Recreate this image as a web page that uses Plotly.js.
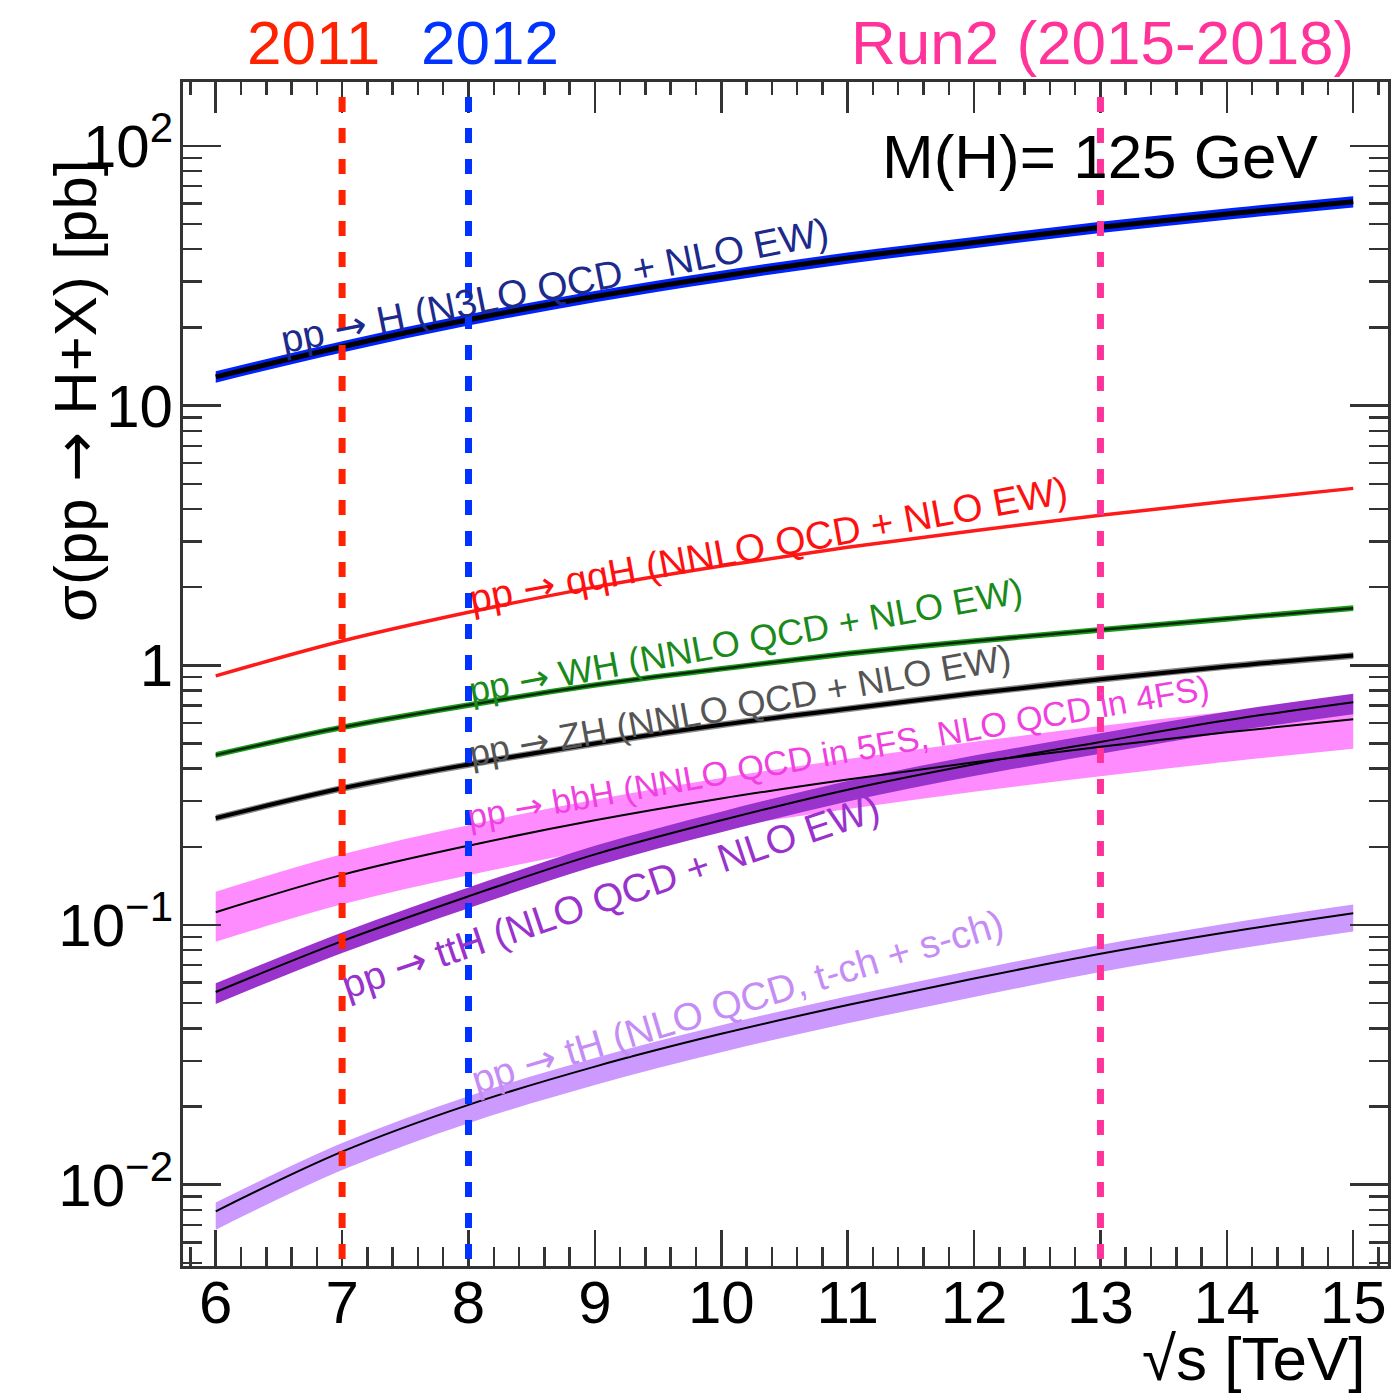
<!DOCTYPE html>
<html><head><meta charset="utf-8">
<script src="https://cdn.plot.ly/plotly-3.0.1.min.js"></script>
<style>html,body{margin:0;padding:0;background:#fff}</style>
</head><body><div id="chart" style="width:1394px;height:1395px"></div>
<script>
// ---- data (cross sections in pb) ----
const energies = [6, 7, 8, 9, 10, 11, 12, 13, 14, 15];
const xsGGF = [12.9, 16.85, 21.4, 26.3, 31.5, 37.0, 42.5, 48.6, 54.7, 61.0];
const xsVBF = [0.91, 1.24, 1.60, 2.00, 2.41, 2.85, 3.30, 3.78, 4.28, 4.80];
const xsWH  = [0.452, 0.577, 0.703, 0.84, 0.97, 1.11, 1.24, 1.37, 1.51, 1.66];
const xsZH  = [0.258, 0.336, 0.415, 0.50, 0.59, 0.68, 0.78, 0.884, 0.99, 1.09];
const xsBBH = [0.112, 0.156, 0.202, 0.253, 0.307, 0.363, 0.423, 0.486, 0.552, 0.62];
const xsTTH = [0.0552, 0.0867, 0.129, 0.187, 0.253, 0.332, 0.416, 0.507, 0.614, 0.72];
const xsTH  = [0.0079, 0.0134, 0.0203, 0.0285, 0.0381, 0.0492, 0.0622, 0.0775, 0.0938, 0.111];

// relative uncertainty band (percent): ggF, VBF, WH, ZH, bbH, ttH, tH
const bandUpPct   = [5, 0, 2.5, 3, 20, 8, 8];
const bandDownPct = [5, 0, 2.5, 3, 23, 10, 15];

const ARROW = '<span style="font-family:DejaVu Sans">→</span>';
const processLabels = [
  'pp ' + ARROW + ' H (N3LO QCD + NLO EW)',
  'pp ' + ARROW + ' qqH (NNLO QCD + NLO EW)',
  'pp ' + ARROW + ' WH (NNLO QCD + NLO EW)',
  'pp ' + ARROW + ' ZH (NNLO QCD + NLO EW)',
  'pp ' + ARROW + ' bbH (NNLO QCD in 5FS, NLO QCD in 4FS)',
  'pp ' + ARROW + ' ttH (NLO QCD + NLO EW)',
  'pp ' + ARROW + ' tH (NLO QCD, t-ch + s-ch)'
];

const runEnergies = [7, 8, 13];
const runLabels = ['2011', '2012', 'Run2 (2015-2018)'];

const xTickVals = [6, 7, 8, 9, 10, 11, 12, 13, 14, 15];
const yTickVals = [0.01, 0.1, 1, 10, 100];
const yTickText = ['10<sup>−2</sup>', '10<sup>−1</sup>', '1', '10', '10<sup>2</sup>'];
const yMinorVals = [0.005, 0.006, 0.007, 0.008, 0.009,
  0.02, 0.03, 0.04, 0.05, 0.06, 0.07, 0.08, 0.09,
  0.2, 0.3, 0.4, 0.5, 0.6, 0.7, 0.8, 0.9,
  2, 3, 4, 5, 6, 7, 8, 9,
  20, 30, 40, 50, 60, 70, 80, 90];

// ---- styles ----
const FONT = 'Liberation Sans, Arial, Helvetica, sans-serif';
const bandColors = ['#0022ff', null, '#1a9a1a', '#888888', '#ff8cff', '#9933cc', '#cc99ff'];
const labelColors = ['#1c2a8c', '#ff1010', '#1a8a1a', '#555555', '#f040e0', '#9933cc', '#c58cf5'];
const lineColors = ['#000000', '#ff1a1a', '#0a2a0a', '#000000', '#000000', '#000000', '#000000'];
const lineWidths = [5, 3.5, 2.5, 4, 2, 2, 2];
const labelSizes = [38.8, 38.8, 36.3, 36.3, 34.2, 39.3, 38.8];
const runColors = ['#ff2200', '#0033ff', '#ff3399'];

const series = [xsGGF, xsVBF, xsWH, xsZH, xsBBH, xsTTH, xsTH];
const traces = [];
function addBand(i) {
  const c = series[i];
  const up = c.map(v => v * (1 + bandUpPct[i] / 100));
  const dn = c.map(v => v * (1 - bandDownPct[i] / 100));
  traces.push({x: energies, y: dn, mode: 'lines', line: {width: 0, shape: 'spline'},
    hoverinfo: 'skip', showlegend: false});
  traces.push({x: energies, y: up, mode: 'lines', line: {width: 0, shape: 'spline'},
    fill: 'tonexty', fillcolor: bandColors[i], hoverinfo: 'skip', showlegend: false});
}
function addLine(i) {
  traces.push({x: energies, y: series[i], mode: 'lines',
    line: {color: lineColors[i], width: lineWidths[i], shape: 'spline'},
    hoverinfo: 'skip', showlegend: false});
}
// draw order
[6, 4, 5, 3, 2, 0].forEach(addBand);
[6, 4, 5, 3, 2, 1, 0].forEach(addLine);
// invisible trace to hold the mirrored axes
traces.push({x: [10], y: [1], xaxis: 'x2', yaxis: 'y2', mode: 'markers',
  marker: {opacity: 0}, hoverinfo: 'skip', showlegend: false});

const xRange = [5.741, 15.275];
const yRange = [-2.313, 2.246];

const shapes = runEnergies.map((e, i) => ({
  type: 'line', xref: 'x', yref: 'paper', x0: e, x1: e, y0: 0.006, y1: 0.995,
  line: {color: runColors[i], width: 7, dash: '15px,16px'}
}));

// label placements (paper coordinates) and angles
const labelPos = [[0.308, 0.8285, -11.3], [0.4855, 0.609, -10.4], [0.467, 0.528, -10.3],
  [0.462, 0.4738, -10.2], [0.5436, 0.4341, -10.0], [0.3544, 0.3125, -18.6], [0.4598, 0.223, -16.7]];
const annotations = processLabels.map((t, i) => ({
  xref: 'paper', yref: 'paper', x: labelPos[i][0], y: labelPos[i][1], textangle: labelPos[i][2],
  text: t, showarrow: false, xanchor: 'center', yanchor: 'middle',
  font: {family: FONT, size: labelSizes[i], color: labelColors[i]}
}));
const runLabelX = [0.1087, 0.2548, 0.7627];
runLabels.forEach((t, i) => annotations.push({
  xref: 'paper', yref: 'paper', x: runLabelX[i], y: 1.033, text: t, showarrow: false,
  xanchor: 'center', yanchor: 'middle', font: {family: FONT, size: 62, color: runColors[i]}
}));
annotations.push({xref: 'paper', yref: 'paper', x: 0.761, y: 0.9367, text: 'M(H)= 125 GeV',
  showarrow: false, xanchor: 'center', yanchor: 'middle', font: {family: FONT, size: 62, color: '#000'}});
annotations.push({xref: 'paper', yref: 'paper', x: -0.0896, y: 0.739, text: 'σ(pp ' + ARROW + ' H+X) [pb]',
  textangle: -90, showarrow: false, xanchor: 'center', yanchor: 'middle',
  font: {family: FONT, size: 60, color: '#000'}});
annotations.push({xref: 'paper', yref: 'paper', x: 0.9834, y: -0.0785, text: '√s [TeV]',
  showarrow: false, xanchor: 'right', yanchor: 'middle', font: {family: FONT, size: 62, color: '#000'}});

const axCol = '#333333';
const layout = {
  width: 1394, height: 1395,
  margin: {l: 183, r: 6, t: 82, b: 129},
  paper_bgcolor: '#ffffff', plot_bgcolor: '#ffffff',
  showlegend: false,
  xaxis: {range: xRange, tickmode: 'array', tickvals: xTickVals, ticks: 'inside', ticklen: 36,
    tickwidth: 2.5, tickcolor: axCol, showline: true, mirror: true, linewidth: 3, linecolor: axCol,
    minor: {dtick: 0.2, ticks: 'inside', ticklen: 19, tickwidth: 2.5, tickcolor: axCol, showgrid: false},
    showgrid: false, zeroline: false, automargin: false, ticklabelstandoff: -18,
    tickfont: {family: FONT, size: 60, color: '#000'}},
  xaxis2: {range: xRange, overlaying: 'x', side: 'top', anchor: 'y', tickmode: 'array', tickvals: xTickVals,
    ticks: 'inside', ticklen: 31, tickwidth: 2.5, tickcolor: axCol, showticklabels: false,
    minor: {dtick: 0.2, ticks: 'inside', ticklen: 13, tickwidth: 2.5, tickcolor: axCol, showgrid: false},
    showline: false, showgrid: false, zeroline: false, automargin: false},
  yaxis: {type: 'log', range: yRange, tickmode: 'array', tickvals: yTickVals, ticktext: yTickText,
    ticks: 'inside', ticklen: 38, tickwidth: 2.5, tickcolor: axCol, showline: true, mirror: true,
    linewidth: 3, linecolor: axCol, ticklabelstandoff: -5,
    minor: {tickmode: 'array', tickvals: yMinorVals, ticks: 'inside', ticklen: 19, tickwidth: 2.5,
      tickcolor: axCol, showgrid: false},
    showgrid: false, zeroline: false, automargin: false,
    tickfont: {family: FONT, size: 60, color: '#000'}},
  yaxis2: {type: 'log', range: yRange, overlaying: 'y', side: 'right', anchor: 'x', tickmode: 'array',
    tickvals: yTickVals, ticks: 'inside', ticklen: 38, tickwidth: 2.5, tickcolor: axCol,
    showticklabels: false,
    minor: {tickmode: 'array', tickvals: yMinorVals, ticks: 'inside', ticklen: 19, tickwidth: 2.5,
      tickcolor: axCol, showgrid: false},
    showline: false, showgrid: false, zeroline: false, automargin: false},
  shapes: shapes,
  annotations: annotations
};

Plotly.newPlot('chart', traces, layout, {staticPlot: true, displayModeBar: false});
</script>
</body></html>
